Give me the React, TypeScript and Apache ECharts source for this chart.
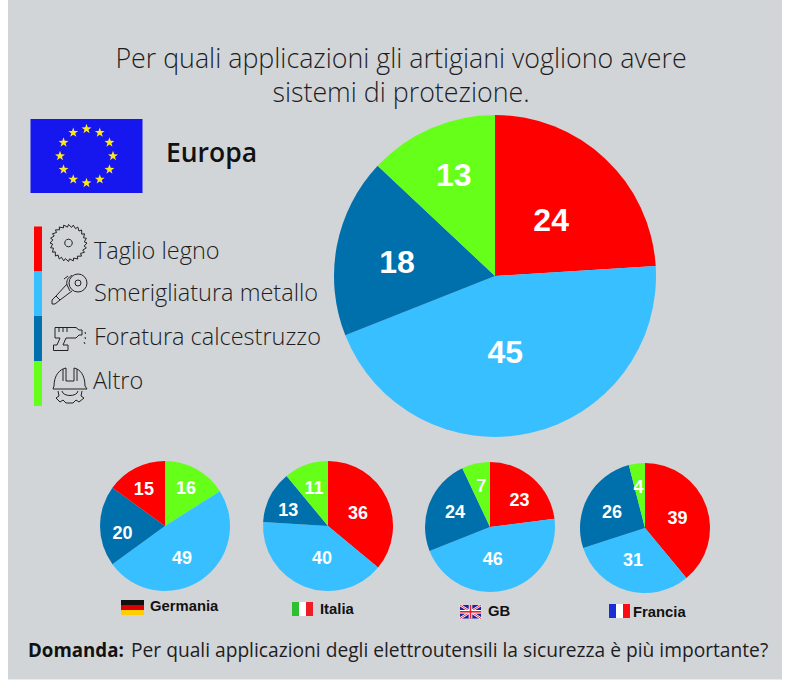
import React, { useEffect, useRef } from "react";
import * as echarts from "echarts";

const categories = ["Taglio legno", "Smerigliatura metallo", "Foratura calcestruzzo", "Altro"];
const colors = ["#ff0000", "#38bfff", "#0070ad", "#66ff1a"];
const europa = [24, 45, 18, 13];
const germania = [15, 49, 20, 16];
const italia = [36, 40, 13, 11];
const gb = [23, 46, 24, 7];
const francia = [39, 31, 26, 4];
const titleText = "Per quali applicazioni gli artigiani vogliono avere\nsistemi di protezione.";
const question = "Per quali applicazioni degli elettroutensili la sicurezza è più importante?";

const PANEL = "#d2d5d7";
const SANS = "'Open Sans', sans-serif";
const INK = "#1d1d1f";

// slice order clockwise from 12 o'clock, as indices in categories
const orderStd = [0, 1, 2, 3];
const orderDe = [3, 1, 2, 0];

const pie = (
  name: string,
  values: number[],
  order: number[],
  center: number[],
  radius: number,
  fontSize: number,
  nudges: number[][]
) => ({
  type: "pie",
  name,
  center,
  radius,
  startAngle: 90,
  clockwise: true,
  silent: true,
  avoidLabelOverlap: false,
  labelLine: { show: false },
  label: {
    show: true,
    position: "inside",
    formatter: "{c}",
    color: "#ffffff",
    fontFamily: "Liberation Sans",
    fontWeight: "bold",
    fontSize,
  },
  labelLayout: (p: any) => ({ dx: nudges[p.dataIndex][0], dy: nudges[p.dataIndex][1] }),
  data: order.map((i) => ({
    name: categories[i],
    value: values[i],
    itemStyle: { color: colors[i] },
  })),
});

const star = (cx: number, cy: number, r: number, rot = -Math.PI / 2) => {
  const pts: number[][] = [];
  for (let i = 0; i < 10; i++) {
    const rr = i % 2 ? r * 0.4 : r;
    const a = rot + (i * Math.PI) / 5;
    pts.push([cx + rr * Math.cos(a), cy + rr * Math.sin(a)]);
  }
  return pts;
};

const sawOutline = (cx: number, cy: number, r: number, n: number) => {
  const pts: number[][] = [];
  for (let i = 0; i < n; i++) {
    const a = (i * 2 * Math.PI) / n;
    const b = ((i + 0.75) * 2 * Math.PI) / n;
    pts.push([cx + r * Math.cos(a), cy + r * Math.sin(a)]);
    pts.push([cx + (r - 2.6) * Math.cos(b), cy + (r - 2.6) * Math.sin(b)]);
  }
  return pts;
};

const GRINDER =
  "M69 283a9 9 0 1 0 18 0a9 9 0 1 0 -18 0M75 283a3 3 0 1 0 6 0a3 3 0 1 0 -6 0M72 275.5C68 277 66 281 67 285L70 291M64 279L68 276M67 284L56 296L60 300L72 291M56 296L52 300L52 304L55 304L60 300";
const DRILL =
  "M55 327.5L76 327.5L79 330L82 330L82 335L79 335L76 338L66 338L63 345L68 345L68 350.5L53.5 350.5L53.5 345L57 345L60 338L55 338ZM59 328L59 332M63 328L63 332M67 328L67 332M85 332L85.5 334M85 337L85.5 339M84 342L85 344";
const HELMET =
  "M54 386C54 375 60 369 66 368L66 381L74 381L74 368C80 369 85 375 85 386L87 389L53 389ZM63 369L63 381M77 369L77 381M58 391L59 396L56 398L60 402L63 400L66 403L73 403L76 400L79 402L84 398L81 396L82 391M62 391C63 397 77 397 78 391";

const App = () => {
  const ref = useRef<HTMLDivElement>(null);

  useEffect(() => {
    const chart = echarts.init(ref.current!, undefined, { renderer: "svg" });
    echarts.graphic.registerShape("grinderIcon", echarts.graphic.extendPath(GRINDER, {}));
    echarts.graphic.registerShape("drillIcon", echarts.graphic.extendPath(DRILL, {}));
    echarts.graphic.registerShape("helmetIcon", echarts.graphic.extendPath(HELMET, {}));

    const rect = (x: number, y: number, width: number, height: number, fill: string) => ({
      type: "rect",
      shape: { x, y, width, height },
      style: { fill },
    });
    const text = (
      x: number,
      y: number,
      t: string,
      fontSize: number,
      opts: any = {}
    ) => ({
      type: "text",
      x,
      y,
      style: {
        text: t,
        fontSize,
        fontFamily: SANS,
        fill: INK,
        textVerticalAlign: "middle",
        ...opts,
      },
    });
    const iconStyle = { fill: "none", stroke: "#222222", lineWidth: 1 };
    const countryFont = { fontFamily: "Liberation Sans", fontWeight: "bold", fill: "#111" };

    const euStars = Array.from({ length: 12 }, (_, i) => {
      const a = (i * Math.PI) / 6;
      return {
        type: "polygon",
        shape: { points: star(86.5 + 26.5 * Math.sin(a), 156 - 27 * Math.cos(a), 5.2) },
        style: { fill: "#ffe81a" },
      };
    });

    const legendBars = [226.5, 271.5, 316, 361].map((y, i) => rect(34, y, 8, 45, colors[i]));
    const legendY = [250, 292, 336, 380];
    const legendX = [94, 94, 94, 93];

    const cut = (pts: number[][], w: number, c: string) => ({
      type: "polyline",
      shape: { points: pts },
      style: { stroke: c, lineWidth: w, fill: "none" },
    });

    chart.setOption({
      animation: false,
      backgroundColor: "#ffffff",
      title: {
        text: titleText,
        left: 396,
        top: 35.5,
        textAlign: "center",
        textStyle: {
          fontFamily: SANS,
          fontWeight: 300,
          fontSize: 26.8,
          lineHeight: 34,
          color: INK,
        },
      },
      graphic: [
        rect(8, 0, 774, 679.5, PANEL),
        rect(30.5, 119, 112, 74, "#1616ee"),
        ...euStars,
        text(166, 152, "Europa", 26.5, { fontWeight: 600, fill: "#111" }),
        ...legendBars,
        ...categories.map((c, i) => text(legendX[i], legendY[i], c, 23.5, { fontWeight: 300 })),
        { type: "polygon", shape: { points: sawOutline(68.5, 243, 18.5, 24) }, style: iconStyle },
        { type: "circle", shape: { cx: 68.5, cy: 243, r: 3.8 }, style: iconStyle },
        { type: "grinderIcon", x: 0, y: 0, style: iconStyle },
        { type: "drillIcon", x: 0, y: 0, style: iconStyle },
        { type: "helmetIcon", x: 0, y: 0, style: iconStyle },
        // Germania
        rect(121, 600, 23, 5, "#111111"),
        rect(121, 605, 23, 5, "#dd0000"),
        rect(121, 610, 23, 5, "#ffce00"),
        text(150, 606, "Germania", 14.8, countryFont),
        // Italia
        rect(292, 602, 7, 14, "#2fc02f"),
        rect(299, 602, 7, 14, "#ffffff"),
        rect(306, 602, 7, 14, "#ee1c25"),
        text(320, 609, "Italia", 14.8, countryFont),
        // GB
        rect(460, 605, 21, 13.5, "#20209a"),
        cut([[460, 605], [481, 618.5]], 2.4, "#ffffff"),
        cut([[481, 605], [460, 618.5]], 2.4, "#ffffff"),
        cut([[460, 605], [481, 618.5]], 0.9, "#ee1c25"),
        cut([[481, 605], [460, 618.5]], 0.9, "#ee1c25"),
        rect(460, 610, 21, 3.6, "#ffffff"),
        rect(468.7, 605, 3.6, 13.5, "#ffffff"),
        rect(460, 611, 21, 1.6, "#ee1c25"),
        rect(469.7, 605, 1.6, 13.5, "#ee1c25"),
        text(488, 611, "GB", 14.8, countryFont),
        // Francia
        rect(609, 604, 7, 14, "#1a2fd6"),
        rect(616, 604, 7, 14, "#ffffff"),
        rect(623, 604, 7, 14, "#ff0a12"),
        text(633, 612, "Francia", 14.8, countryFont),
        // Question
        text(28, 649.5, "Domanda:", 18.7, { fontWeight: "bold", fill: "#111" }),
        text(131, 649.5, question, 19.2, { fontWeight: 400 }),
      ],
      series: [
        pie("Europa", europa, orderStd, [495, 276], 161, 32, [[-1, 5], [-8, -5], [-16, 2], [-8, -24]]),
        pie("Germania", germania, orderDe, [165, 526], 65, 18, [[4, -7], [-3, 3], [-7, 7], [-5, -5]]),
        pie("Italia", italia, orderStd, [328, 526], 65, 18, [[-2, 2], [7, -1], [-8, 0], [-2, -5]]),
        pie("GB", gb, orderStd, [490, 527], 65, 18, [[6, 0], [-6, -2], [-2, -2], [-1, -6]]),
        pie("Francia", francia, orderStd, [645, 528], 65, 18, [[-1, 2], [-2, -2], [-2, 1], [-2, -6]]),
      ],
    });
    return () => chart.dispose();
  }, []);

  return (
    <div
      ref={ref}
      style={{ position: "absolute", left: 0, top: 0, width: 800, height: 692 }}
    />
  );
};

export default App;
